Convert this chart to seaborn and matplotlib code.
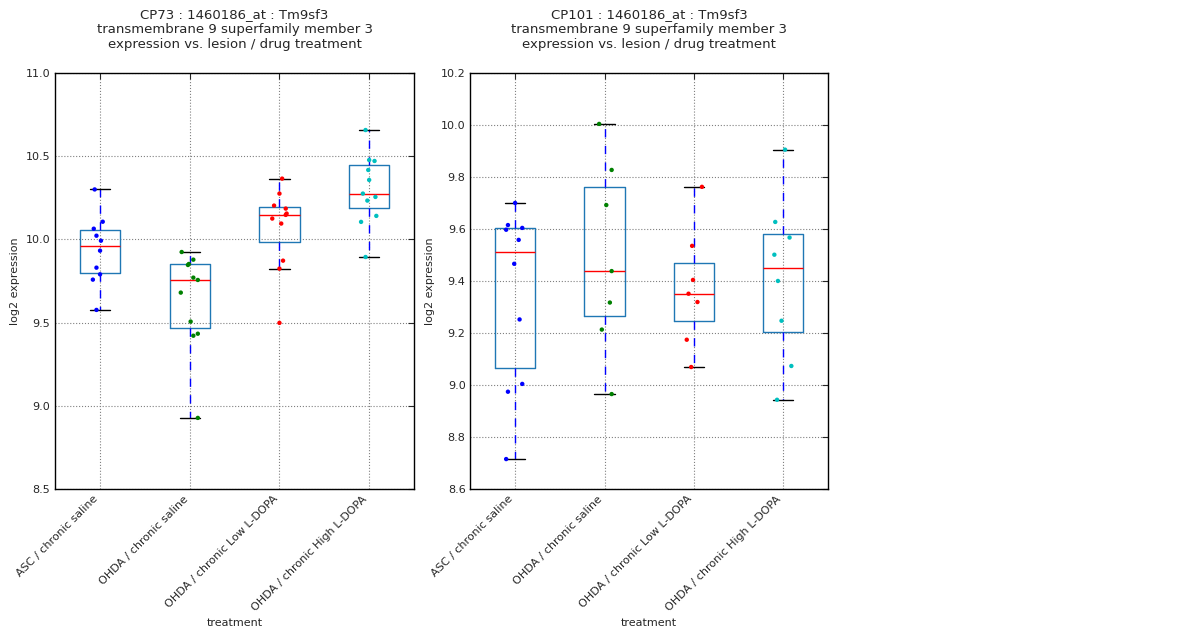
import seaborn as sns
import matplotlib.pyplot as plt
import pandas as pd

groups = ['ASC / chronic saline', 'OHDA / chronic saline',
          'OHDA / chronic Low L-DOPA', 'OHDA / chronic High L-DOPA']
colors = ['#0000ff', '#008000', '#ff0000', '#00bfbf']

# CP73 values per group
cp73 = [
    [10.30, 10.106, 10.064, 10.022, 9.992, 9.932, 9.830, 9.79, 9.758, 9.576],
    [9.924, 9.878, 9.852, 9.846, 9.770, 9.756, 9.680, 9.506, 9.433, 9.421, 8.927],
    [10.365, 10.275, 10.203, 10.185, 10.155, 10.147, 10.125, 10.095, 9.872, 9.824, 9.498],
    [10.657, 10.477, 10.471, 10.417, 10.357, 10.275, 10.255, 10.233, 10.141, 10.105, 9.894],
]
# CP101 values per group
cp101 = [
    [9.70, 9.615, 9.604, 9.597, 9.558, 9.466, 9.252, 9.004, 8.974, 8.715],
    [10.004, 9.827, 9.692, 9.438, 9.317, 9.213, 8.965],
    [9.762, 9.535, 9.404, 9.351, 9.319, 9.174, 9.069],
    [9.905, 9.627, 9.567, 9.501, 9.40, 9.247, 9.073, 8.943],
]
# horizontal jitter of the points (category units)
jit73 = [
    [-0.06, 0.03, -0.07, -0.04, 0.01, 0.0, -0.04, 0.0, -0.08, -0.04],
    [-0.09, 0.04, -0.01, -0.02, 0.04, 0.09, -0.1, 0.01, 0.09, 0.04, 0.09],
    [0.03, 0.0, -0.06, 0.07, 0.08, 0.07, -0.08, 0.02, 0.04, 0.0, 0.0],
    [-0.04, 0.0, 0.06, -0.01, 0.0, -0.07, 0.07, -0.02, 0.08, -0.09, -0.04],
]
jit101 = [
    [0.0, -0.08, 0.08, -0.1, 0.04, -0.01, 0.05, 0.08, -0.08, -0.1],
    [-0.06, 0.08, 0.02, 0.08, 0.06, -0.03, 0.08],
    [0.09, -0.02, -0.01, -0.06, 0.04, -0.08, -0.03],
    [0.02, -0.09, 0.07, -0.1, -0.06, -0.02, 0.09, -0.07],
]

panels = [
    ('CP73 : 1460186_at : Tm9sf3', cp73, jit73, (8.5, 11.0), [8.5, 9.0, 9.5, 10.0, 10.5, 11.0]),
    ('CP101 : 1460186_at : Tm9sf3', cp101, jit101, (8.6, 10.2), [8.6, 8.8, 9.0, 9.2, 9.4, 9.6, 9.8, 10.0, 10.2]),
]

sns.set_style('white')
plt.rcParams['font.family'] = ['DejaVu Sans']
fig = plt.figure(figsize=(12, 6.4), dpi=100)
axes_pos = [[0.046, 0.236, 0.299, 0.65], [0.392, 0.236, 0.298, 0.65]]

for (title, vals, jit, ylim, yticks), pos in zip(panels, axes_pos):
    ax = fig.add_axes(pos)
    df = pd.DataFrame([(groups[i], v) for i, g in enumerate(vals) for v in g],
                      columns=['treatment', 'expr'])
    sns.boxplot(data=df, x='treatment', y='expr', order=groups, ax=ax, width=0.45,
                whis=1.5, showfliers=False, fill=False, linecolor='blue', linewidth=1,
                medianprops=dict(color='red', linewidth=1),
                whiskerprops=dict(color='blue', linestyle=(0, (6, 6)), linewidth=1),
                capprops=dict(color='black', linewidth=1))
    pts = pd.DataFrame([(i + jit[i][k], v, i) for i, g in enumerate(vals) for k, v in enumerate(g)],
                       columns=['x', 'y', 'g'])
    sns.scatterplot(data=pts, x='x', y='y', hue='g', palette=colors, legend=False,
                    s=10, edgecolor='none', ax=ax, zorder=5)
    ax.set_xlim(-0.5, 3.5)
    ax.set_ylim(*ylim)
    ax.set_yticks(yticks)
    ax.set_yticklabels(['%.1f' % t for t in yticks], fontsize=8)
    ax.set_xticks(range(4))
    ax.set_xticklabels(groups, rotation=45, ha='right', fontsize=8)
    ax.grid(True, color='gray', linestyle=':', linewidth=0.8)
    for s in ax.spines.values():
        s.set_color('black')
        s.set_linewidth(1)
    ax.tick_params(direction='in', length=4, top=True, right=True)
    ax.set_xlabel('treatment', fontsize=8)
    ax.set_ylabel('log2 expression', fontsize=8)
    ax.set_title(title + '\ntransmembrane 9 superfamily member 3\nexpression vs. lesion / drug treatment',
                 fontsize=9.5, pad=18)

fig.savefig('out.png', dpi=100)
